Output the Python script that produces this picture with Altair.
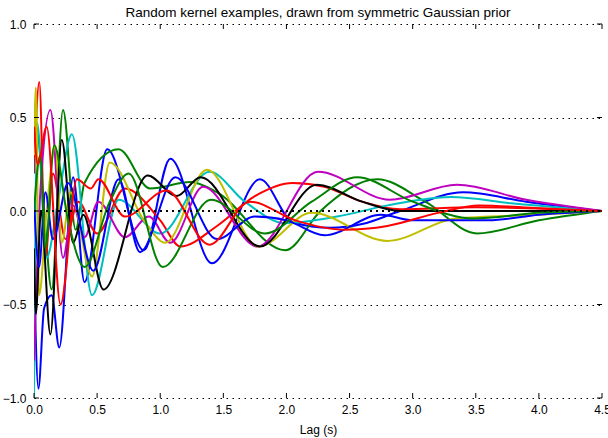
import altair as alt
import pandas as pd

TITLE = "Random kernel examples, drawn from symmetric Gaussian prior"
X_LABEL = "Lag (s)"
X_TICKS = [0.0, 0.5, 1.0, 1.5, 2.0, 2.5, 3.0, 3.5, 4.0, 4.5]
Y_TICKS = [-1.0, -0.5, 0.0, 0.5, 1.0]

# Sampled kernels: lag (s) and kernel value at the turning points of each draw
BLUE_1_X = [0.0, 0.035, 0.08, 0.14, 0.20, 0.31, 0.40, 0.58, 0.87, 1.08, 1.41, 1.79, 2.05, 2.35, 2.6, 2.9, 3.4, 3.9, 4.5]
BLUE_1_Y = [-0.30, -0.95, -0.52, -0.45, -0.73, 0.18, -0.38, 0.33, -0.21, 0.28, -0.28, 0.17, -0.06, -0.09, -0.07, 0.0, 0.10, 0.05, 0.0]

GREEN_1_X = [0.0, 0.02, 0.08, 0.14, 0.23, 0.33, 0.40, 0.67, 0.92, 1.24, 1.45, 1.99, 2.27, 2.72, 3.1, 3.51, 4.0, 4.5]
GREEN_1_Y = [0.30, 0.45, 0.0, -0.42, 0.54, -0.10, 0.15, 0.33, 0.12, 0.155, 0.10, -0.21, 0.0, 0.17, 0.05, -0.12, -0.05, 0.0]

RED_1_X = [0.0, 0.042, 0.09, 0.15, 0.25, 0.35, 0.5, 0.72, 1.0, 1.16, 1.45, 1.75, 2.05, 2.3, 2.6, 2.9, 3.5, 4.5]
RED_1_Y = [0.20, 0.69, -0.25, 0.20, -0.15, 0.05, -0.12, 0.12, -0.05, -0.19, -0.08, 0.08, 0.15, 0.13, 0.05, 0.01, 0.02, 0.0]

CYAN_X = [0.0, 0.025, 0.10, 0.19, 0.30, 0.46, 0.67, 1.0, 1.39, 1.67, 1.99, 2.4, 2.8, 3.3, 3.8, 4.5]
CYAN_Y = [-1.0, 0.47, -0.25, 0.05, 0.41, -0.45, 0.06, -0.12, 0.21, 0.05, -0.065, -0.03, 0.03, 0.075, 0.04, 0.0]

MAGENTA_X = [0.0, 0.05, 0.13, 0.23, 0.31, 0.40, 0.51, 0.72, 0.91, 1.08, 1.34, 1.77, 2.25, 2.82, 3.35, 3.9, 4.5]
MAGENTA_Y = [-0.80, 0.10, 0.54, -0.25, 0.03, -0.14, 0.05, -0.14, -0.03, -0.17, 0.13, -0.19, 0.21, 0.06, 0.14, 0.06, 0.0]

YELLOW_X = [0.0, 0.015, 0.04, 0.10, 0.17, 0.22, 0.29, 0.46, 0.60, 0.88, 1.04, 1.37, 1.78, 2.2, 2.8, 3.34, 4.0, 4.5]
YELLOW_Y = [0.30, 0.66, -0.45, 0.0, 0.35, -0.17, 0.10, -0.35, 0.26, -0.06, -0.17, 0.22, -0.19, -0.01, -0.16, -0.04, -0.02, 0.0]

BLACK_X = [0.0, 0.015, 0.055, 0.13, 0.22, 0.31, 0.39, 0.55, 0.9, 1.13, 1.32, 1.79, 2.24, 2.6, 2.9, 3.5, 4.5]
BLACK_Y = [-0.20, -0.55, 0.0, -0.66, 0.38, -0.17, -0.02, -0.42, 0.19, 0.08, 0.18, -0.19, 0.14, 0.05, 0.0, 0.0, 0.0]

BLUE_2_X = [0.0, 0.04, 0.09, 0.15, 0.27, 0.47, 0.67, 0.84, 1.12, 1.45, 1.75, 2.0, 2.3, 2.75, 3.0, 3.6, 4.0, 4.5]
BLUE_2_Y = [0.05, -0.30, 0.10, -0.15, 0.15, -0.32, 0.17, -0.22, 0.18, -0.15, -0.03, -0.05, -0.13, -0.02, -0.05, -0.05, -0.02, 0.0]

GREEN_2_X = [0.0, 0.05, 0.09, 0.16, 0.27, 0.40, 0.60, 0.75, 1.02, 1.40, 1.83, 2.2, 2.56, 3.0, 3.48, 4.0, 4.5]
GREEN_2_Y = [0.0, 0.30, -0.20, 0.35, -0.05, -0.30, 0.05, 0.20, -0.30, 0.06, -0.12, 0.05, 0.18, 0.05, -0.04, -0.01, 0.0]

RED_2_X = [0.0, 0.03, 0.10, 0.21, 0.34, 0.45, 0.51, 0.72, 1.05, 1.39, 1.71, 2.07, 2.46, 2.8, 3.2, 3.53, 4.0, 4.5]
RED_2_Y = [0.45, 0.25, 0.45, -0.50, 0.17, 0.12, 0.17, -0.03, 0.11, -0.18, 0.05, -0.05, -0.10, -0.08, -0.01, 0.03, 0.015, 0.0]

SERIES = [
    ("blue_1", "#0000ff", BLUE_1_X, BLUE_1_Y),
    ("green_1", "#008000", GREEN_1_X, GREEN_1_Y),
    ("red_1", "#ff0000", RED_1_X, RED_1_Y),
    ("cyan", "#00bfbf", CYAN_X, CYAN_Y),
    ("magenta", "#bf00bf", MAGENTA_X, MAGENTA_Y),
    ("yellow", "#bfbf00", YELLOW_X, YELLOW_Y),
    ("black", "#000000", BLACK_X, BLACK_Y),
    ("blue_2", "#0000ff", BLUE_2_X, BLUE_2_Y),
    ("green_2", "#008000", GREEN_2_X, GREEN_2_Y),
    ("red_2", "#ff0000", RED_2_X, RED_2_Y),
]

W, H = 568, 374
TICK = 5
FONT = "Liberation Sans"

data = pd.concat(
    [pd.DataFrame({"series": name, "x": xs, "y": ys}) for name, _, xs, ys in SERIES],
    ignore_index=True,
)
x_ticks = pd.DataFrame({"x": X_TICKS})
y_ticks = pd.DataFrame({"y": Y_TICKS})

x_enc = alt.X(
    "x:Q",
    scale=alt.Scale(domain=[X_TICKS[0], X_TICKS[-1]], nice=False, zero=False),
    axis=alt.Axis(values=X_TICKS, format=".1f", title=X_LABEL, grid=False, ticks=False,
                  domain=False, labelFlush=False, labelPadding=6, titlePadding=9),
)
y_enc = alt.Y(
    "y:Q",
    scale=alt.Scale(domain=[Y_TICKS[0], Y_TICKS[-1]], nice=False, zero=False),
    axis=alt.Axis(values=Y_TICKS, format=".1f", title="", grid=True, gridDash=[1.5, 4.5],
                  gridColor="black", gridWidth=1, ticks=False, domain=False,
                  labelFlush=False, labelPadding=8),
)

lines = [
    alt.Chart(data)
    .transform_filter(alt.datum.series == name)
    .mark_line(interpolate="monotone", strokeWidth=2, color=color, clip=True)
    .encode(x=x_enc, y=y_enc)
    for name, color, _, _ in SERIES
]

zero_line = (
    alt.Chart(pd.DataFrame({"y": [0.0]}))
    .mark_rule(color="black", strokeWidth=2, strokeDash=[2, 4])
    .encode(y=y_enc, x=alt.value(0), x2=alt.value(W))
)

# inward tick marks on all four sides
top_ticks = alt.Chart(x_ticks).mark_rule(color="black", strokeWidth=1).encode(
    x=x_enc, y=alt.value(0), y2=alt.value(TICK))
bottom_ticks = alt.Chart(x_ticks).mark_rule(color="black", strokeWidth=1).encode(
    x=x_enc, y=alt.value(H), y2=alt.value(H - TICK))
left_ticks = alt.Chart(y_ticks).mark_rule(color="black", strokeWidth=1).encode(
    y=y_enc, x=alt.value(0), x2=alt.value(TICK))
right_ticks = alt.Chart(y_ticks).mark_rule(color="black", strokeWidth=1).encode(
    y=y_enc, x=alt.value(W), x2=alt.value(W - TICK))

chart = (
    alt.layer(*lines, zero_line, top_ticks, bottom_ticks, left_ticks, right_ticks)
    .properties(
        width=W,
        height=H,
        title=alt.TitleParams(TITLE, anchor="middle", offset=-1),
        autosize=alt.AutoSizeParams(type="none"),
        padding={"left": 34, "top": 24, "right": 6, "bottom": 40},
        background="white",
    )
    .configure_view(stroke=None)
    .configure_axis(labelFont=FONT, labelFontSize=12, labelColor="black",
                    titleFont=FONT, titleFontSize=12, titleFontWeight="normal",
                    titleColor="black")
    .configure_title(font=FONT, fontSize=13.5, fontWeight="normal", color="black")
)

chart.save("out.html", embed_options={"renderer": "svg", "actions": False})
